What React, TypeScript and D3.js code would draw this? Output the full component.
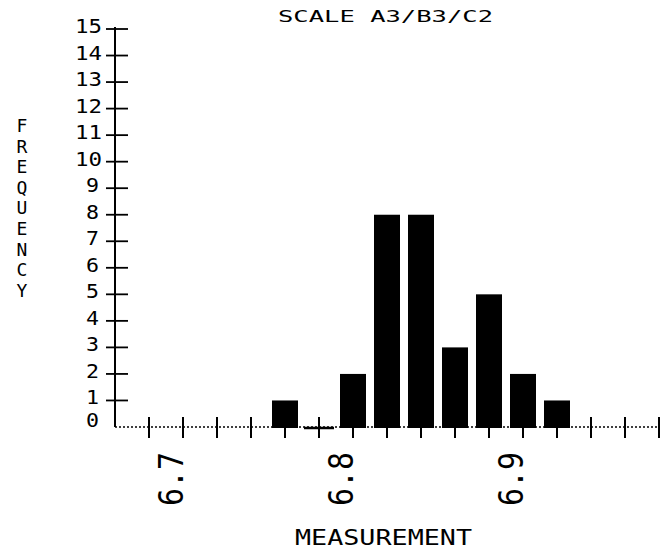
import React from "react";
import * as d3 from "d3";

const binCenters = [6.76, 6.78, 6.8, 6.82, 6.84, 6.86, 6.88, 6.9, 6.92];
const frequencies = [1, 0, 2, 8, 8, 3, 5, 2, 1];
const yTickValues = d3.range(0, 16);
const xTickValues = d3.range(6.68, 6.9801, 0.02).map((v) => +v.toFixed(2));
const xLabelValues = [6.7, 6.8, 6.9];
const titleText = "SCALE A3/B3/C2";
const xTitle = "MEASUREMENT";
const yTitle = "FREQUENCY";

const FONT = "'DejaVu Sans Mono', 'Liberation Mono', monospace";

export default function App() {
  const x = d3.scaleLinear().domain([6.66, 6.98]).range([115, 659]);
  const y = d3.scaleLinear().domain([0, 15]).range([427, 29]);
  const barW = 26;
  const y0 = y(0);

  return (
    <svg
      width={661}
      height={550}
      style={{ position: "absolute", left: 0, top: 0, background: "#fff" }}
    >
      <rect width={661} height={550} fill="#fff" />
      {/* title */}
      <text
        x={278}
        y={22}
        fontFamily={FONT}
        fontSize={16.5}
        textLength={215}
        lengthAdjust="spacingAndGlyphs"
        fill="#000"
      >
        {titleText}
      </text>

      {/* y axis */}
      <line x1={115} x2={115} y1={y(15) - 2} y2={y0} stroke="#000" strokeWidth={2} />
      {yTickValues.map((v) => (
        <g key={"yt" + v}>
          {v > 0 && (
            <line x1={106} x2={128} y1={y(v)} y2={y(v)} stroke="#000" strokeWidth={1.8} />
          )}
          <text
            x={v >= 10 ? 102 : 99}
            y={y(v) + (v === 0 ? 0 : 4)}
            textAnchor="end"
            fontFamily={FONT}
            fontSize={20}
            textLength={v >= 10 ? 27 : 13}
            lengthAdjust="spacingAndGlyphs"
            fill="#000"
          >
            {v}
          </text>
        </g>
      ))}

      {/* y title stacked */}
      {yTitle.split("").map((ch, i) => (
        <text
          key={"yl" + i}
          x={22}
          y={132 + i * 20.6}
          textAnchor="middle"
          fontFamily={FONT}
          fontSize={18}
          fill="#000"
        >
          {ch}
        </text>
      ))}

      {/* x axis dotted */}
      <line
        x1={115}
        x2={660}
        y1={y0}
        y2={y0}
        stroke="#000"
        strokeWidth={1.6}
        strokeDasharray="2,2"
      />
      {xTickValues.map((v) => (
        <line
          key={"xt" + v}
          x1={x(v)}
          x2={x(v)}
          y1={y0 - 10}
          y2={y0 + 11}
          stroke="#000"
          strokeWidth={2}
        />
      ))}

      {/* bars */}
      {binCenters.map((c, i) =>
        frequencies[i] > 0 ? (
          <rect
            key={"b" + i}
            x={x(c) - barW / 2}
            y={y(frequencies[i])}
            width={barW}
            height={y0 - y(frequencies[i]) + 1}
            fill="#000"
          />
        ) : (
          <line
            key={"b" + i}
            x1={x(c) - 15}
            x2={x(c) + 15}
            y1={y0 + 1}
            y2={y0 + 1}
            stroke="#000"
            strokeWidth={2.5}
          />
        )
      )}

      {/* x labels rotated */}
      {xLabelValues.map((v) => (
        <text
          key={"xl" + v}
          transform={`translate(${x(v)},479) rotate(-90)`}
          textAnchor="middle"
          fontFamily={FONT}
          fontSize={34}
          fontWeight={300}
          textLength={54}
          lengthAdjust="spacingAndGlyphs"
          fill="#000"
        >
          {v.toFixed(1)}
        </text>
      ))}

      {/* x title */}
      <text
        x={295}
        y={545}
        fontFamily={FONT}
        fontSize={22}
        textLength={177}
        lengthAdjust="spacingAndGlyphs"
        fill="#000"
      >
        {xTitle}
      </text>
    </svg>
  );
}
